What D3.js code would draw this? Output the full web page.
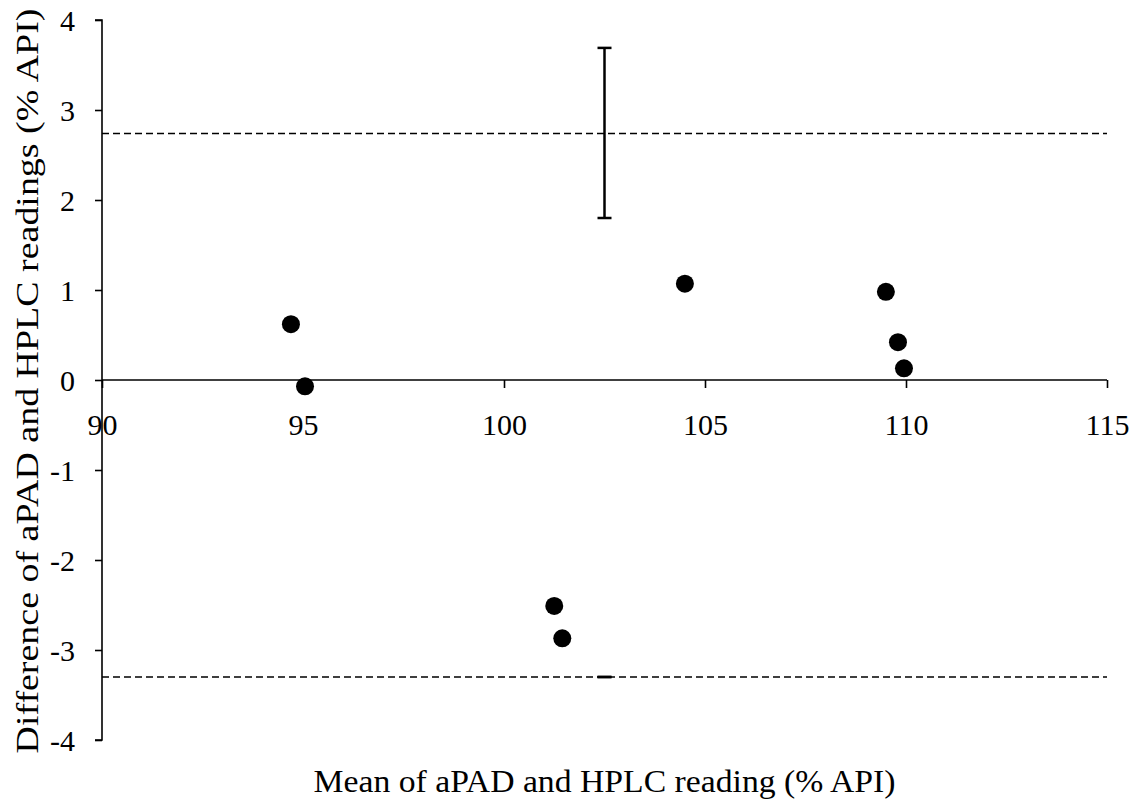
<!DOCTYPE html>
<html>
<head>
<meta charset="utf-8">
<script src="https://cdn.jsdelivr.net/npm/d3@7"></script>
<style>
  body { margin: 0; background: #fff; }
  text { font-family: "Liberation Serif", "Times New Roman", serif; fill: #000; }
</style>
</head>
<body>
<script>
// data
var meanVals = [94.7, 95.05, 101.25, 101.45, 104.5, 109.5, 109.8, 109.95];
var diffVals = [0.62, -0.07, -2.51, -2.87, 1.07, 0.98, 0.42, 0.13];
var limitVals = [2.74, -3.3];
var errX = [102.5, 102.5];
var errLo = [1.8, -3.3];
var errHi = [3.69, -3.3];
var xTicks = [90, 95, 100, 105, 110, 115];
var yTicks = [-4, -3, -2, -1, 0, 1, 2, 3, 4];

var W = 1133, H = 806;
var margin = { top: 20, right: 26, bottom: 66, left: 102 };

var svg = d3.select('body').append('svg')
	.attr('width', W)
	.attr('height', H);

var xScale = d3.scaleLinear().domain([90, 115]).range([margin.left, W - margin.right]);
var yScale = d3.scaleLinear().domain([-4, 4]).range([H - margin.bottom, margin.top]);

// dashed limits of agreement
svg.append('g').selectAll('line')
	.data(limitVals)
	.join('line')
	.attr('x1', xScale(90)).attr('x2', xScale(115))
	.attr('y1', d => yScale(d)).attr('y2', d => yScale(d))
	.attr('stroke', '#000')
	.attr('stroke-width', 1.5)
	.attr('stroke-dasharray', '7,4');

// y axis (hyphen minus like the original)
var yAxis = svg.append('g')
	.attr('transform', `translate(${xScale(90)},0)`)
	.call(d3.axisLeft(yScale).tickValues(yTicks).tickSize(7).tickPadding(20).tickFormat(d => String(d)));
yAxis.select('.domain').attr('stroke', '#000').attr('stroke-width', 1.6).attr('d', `M-7,${yScale(4)}H0V${yScale(-4)}H-7`);
yAxis.selectAll('.tick line').attr('stroke', '#000').attr('stroke-width', 1.6);
yAxis.selectAll('.tick text').style('font-size', '30px').attr('font-family', null).attr('dy', '0.34em');

// x axis at y = 0
var xAxis = svg.append('g')
	.attr('transform', `translate(0,${yScale(0)})`)
	.call(d3.axisBottom(xScale).tickValues(xTicks).tickSize(8));
xAxis.select('.domain').attr('stroke', '#000').attr('stroke-width', 1.6).attr('d', `M${xScale(90)},0H${xScale(115)}`);
xAxis.selectAll('.tick line').attr('stroke', '#000').attr('stroke-width', 1.6);
xAxis.selectAll('.tick text').style('font-size', '30px').attr('font-family', null).attr('y', 55).attr('dy', 0);

// error bars
var eb = svg.append('g').selectAll('g')
	.data(errX.map((x, i) => ({ x: x, lo: errLo[i], hi: errHi[i] })))
	.join('g');
eb.append('line')
	.attr('x1', d => xScale(d.x)).attr('x2', d => xScale(d.x))
	.attr('y1', d => yScale(d.lo)).attr('y2', d => yScale(d.hi))
	.attr('stroke', '#000').attr('stroke-width', 2.5);
eb.selectAll('.cap')
	.data(d => [{ x: d.x, y: d.lo }, { x: d.x, y: d.hi }])
	.join('line')
	.attr('class', 'cap')
	.attr('x1', d => xScale(d.x) - 7).attr('x2', d => xScale(d.x) + 7)
	.attr('y1', d => yScale(d.y)).attr('y2', d => yScale(d.y))
	.attr('stroke', '#000').attr('stroke-width', 2.5);

// points
svg.append('g').selectAll('circle')
	.data(meanVals.map((m, i) => ({ m: m, d: diffVals[i] })))
	.join('circle')
	.attr('cx', d => xScale(d.m))
	.attr('cy', d => yScale(d.d))
	.attr('r', 9)
	.attr('fill', '#000');

// axis titles
svg.append('text')
	.attr('x', (xScale(90) + xScale(115)) / 2)
	.attr('y', 792)
	.attr('text-anchor', 'middle')
	.attr('textLength', 582)
	.attr('lengthAdjust', 'spacingAndGlyphs')
	.style('font-size', '31px')
	.text('Mean of aPAD and HPLC reading (% API)');

svg.append('text')
	.attr('transform', `translate(38,${yScale(0) + 1}) rotate(-90)`)
	.attr('text-anchor', 'middle')
	.attr('textLength', 745)
	.attr('lengthAdjust', 'spacingAndGlyphs')
	.style('font-size', '31px')
	.text('Difference of aPAD and HPLC readings (% API)');
</script>
</body>
</html>
